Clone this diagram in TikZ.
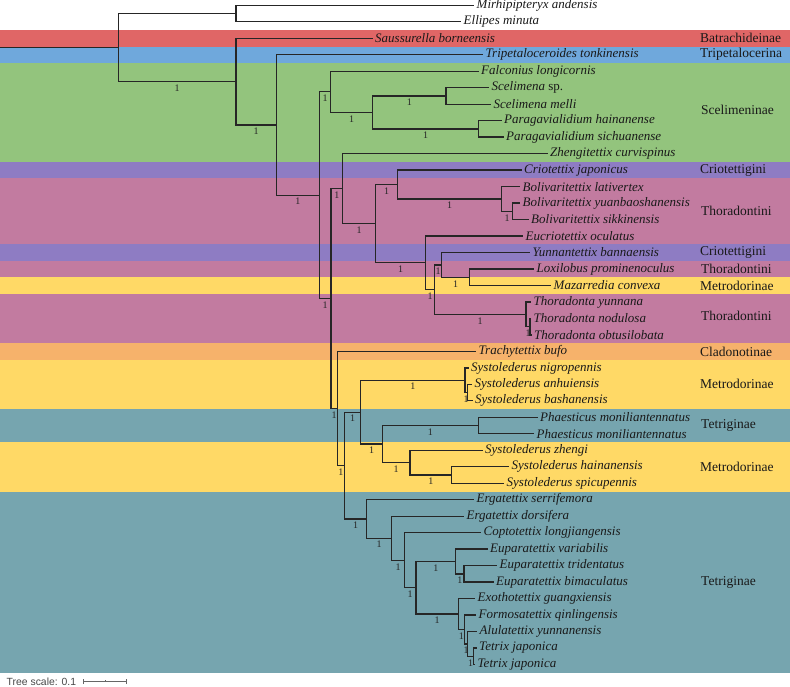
\documentclass[tikz,border=0pt]{standalone}
\usepackage{fontspec}
\setmainfont{Liberation Serif}
\newfontfamily\scalesans{Liberation Sans}
\definecolor{cRed}{HTML}{E06666}
\definecolor{cBlue}{HTML}{6FA8DC}
\definecolor{cGreen}{HTML}{93C47D}
\definecolor{cPurple}{HTML}{8E7CC3}
\definecolor{cMauve}{HTML}{C27BA0}
\definecolor{cYellow}{HTML}{FFD966}
\definecolor{cOrange}{HTML}{F6B26B}
\definecolor{cTeal}{HTML}{76A5AF}
\begin{document}
\begin{tikzpicture}[x=1pt,y=-1pt,
  br/.style={line width=1.3pt, draw=black!85},
  tip/.style={anchor=west, inner xsep=2.5pt, inner ysep=0pt, font=\fontsize{13}{13}\selectfont\itshape, text=black!90},
  grp/.style={anchor=west, inner sep=0pt, font=\fontsize{13.5}{13.5}\selectfont, text=black!90},
  sup/.style={pos=0.75, below=2.0pt, inner sep=0.5pt, font=\fontsize{10}{10}\selectfont, text=black!85}]
\useasboundingbox (0,0) rectangle (790,686);
% bands
\fill[cRed]    (0,30.06) rectangle (790,46.5);
\fill[cBlue]   (0,46.5) rectangle (790,63.0);
\fill[cGreen]  (0,63.0) rectangle (790,161.9);
\fill[cPurple] (0,161.9) rectangle (790,178.4);
\fill[cMauve]  (0,178.4) rectangle (790,244.3);
\fill[cPurple] (0,244.3) rectangle (790,260.8);
\fill[cMauve]  (0,260.8) rectangle (790,277.3);
\fill[cYellow] (0,277.3) rectangle (790,293.7);
\fill[cMauve]  (0,293.7) rectangle (790,343.2);
\fill[cOrange] (0,343.2) rectangle (790,359.7);
\fill[cYellow] (0,359.7) rectangle (790,409.1);
\fill[cTeal]   (0,409.1) rectangle (790,442.1);
\fill[cYellow] (0,442.1) rectangle (790,491.5);
\fill[cTeal]   (0,491.5) rectangle (790,672.7);
% group labels
\node[grp] (g1) at (700,38.3) {Batrachideinae};
\node[grp] (g2) at (700,54.7) {Tripetalocerina};
\node[grp] (g3) at (701,110) {Scelimeninae};
\node[grp] (g4) at (700,170.1) {Criotettigini};
\node[grp] (g5) at (701,211.3) {Thoradontini};
\node[grp] (g6) at (700,252.5) {Criotettigini};
\node[grp] (g7) at (701,269) {Thoradontini};
\node[grp] (g8) at (700,285.5) {Metrodorinae};
\node[grp] (g9) at (701,316) {Thoradontini};
\node[grp] (g10) at (700,351.4) {Cladonotinae};
\node[grp] (g11) at (700,384.3) {Metrodorinae};
\node[grp] (g12) at (701,425.5) {Tetriginae};
\node[grp] (g13) at (700,466.7) {Metrodorinae};
\node[grp] (g14) at (701,582) {Tetriginae};
% tips
\node[tip] (t0) at (474,5.8) {Mirhipipteryx andensis};
\node[tip] (t1) at (461,21.8) {Ellipes minuta};
\node[tip] (t2) at (372.5,38.3) {Saussurella borneensis};
\node[tip] (t3) at (483,54.7) {Tripetaloceroides tonkinensis};
\node[tip] (t4) at (478.5,71.2) {Falconius longicornis};
\node[tip] (t5) at (489,87.7) {Scelimena \upshape sp.};
\node[tip] (t6) at (491,104.2) {Scelimena melli};
\node[tip] (t7) at (501.5,120.7) {Paragavialidium hainanense};
\node[tip] (t8) at (503.5,137.1) {Paragavialidium sichuanense};
\node[tip] (t9) at (547.5,153.6) {Zhengitettix curvispinus};
\node[tip] (t10) at (521.5,170.1) {Criotettix japonicus};
\node[tip] (t11) at (520,186.6) {Bolivaritettix lativertex};
\node[tip] (t12) at (520,203.1) {Bolivaritettix yuanbaoshanensis};
\node[tip] (t13) at (528.5,219.5) {Bolivaritettix sikkinensis};
\node[tip] (t14) at (523,236.0) {Eucriotettix oculatus};
\node[tip] (t15) at (530,252.5) {Yunnantettix bannaensis};
\node[tip] (t16) at (534,269.0) {Loxilobus prominenoculus};
\node[tip] (t17) at (551,285.5) {Mazarredia convexa};
\node[tip] (t18) at (531,301.9) {Thoradonta yunnana};
\node[tip] (t19) at (531,318.4) {Thoradonta nodulosa};
\node[tip] (t20) at (531.5,334.9) {Thoradonta obtusilobata};
\node[tip] (t21) at (476,351.4) {Trachytettix bufo};
\node[tip] (t22) at (468.5,367.9) {Systolederus nigropennis};
\node[tip] (t23) at (472,384.3) {Systolederus anhuiensis};
\node[tip] (t24) at (472.5,400.8) {Systolederus bashanensis};
\node[tip] (t25) at (537.5,417.3) {Phaesticus moniliantennatus};
\node[tip] (t26) at (534,433.8) {Phaesticus moniliantennatus};
\node[tip] (t27) at (482.5,450.3) {Systolederus zhengi};
\node[tip] (t28) at (509,466.7) {Systolederus hainanensis};
\node[tip] (t29) at (504,483.2) {Systolederus spicupennis};
\node[tip] (t30) at (474,499.7) {Ergatettix serrifemora};
\node[tip] (t31) at (464,516.2) {Ergatettix dorsifera};
\node[tip] (t32) at (481,532.7) {Coptotettix longjiangensis};
\node[tip] (t33) at (487.5,549.1) {Euparatettix variabilis};
\node[tip] (t34) at (497,565.6) {Euparatettix tridentatus};
\node[tip] (t35) at (493.5,582.1) {Euparatettix bimaculatus};
\node[tip] (t36) at (475,598.6) {Exothotettix guangxiensis};
\node[tip] (t37) at (476,615.1) {Formosatettix qinlingensis};
\node[tip] (t38) at (477,631.5) {Alulatettix yunnanensis};
\node[tip] (t39) at (476.5,648.0) {Tetrix japonica};
\node[tip] (t40) at (475,664.5) {Tetrix japonica};
% internal nodes
\coordinate (rs) at (0,47.6);
\coordinate (root) at (118.3,47.6);
\coordinate (og) at (236,13.8);
\coordinate (n2) at (236,81.6);
\coordinate (n3) at (276.3,124.95);
\coordinate (n4) at (319.3,195.2);
\coordinate (nS1) at (330.7,91.8);
\coordinate (nS2) at (372.7,112.4);
\coordinate (nS3) at (446,95.95);
\coordinate (nS4) at (478.3,128.9);
\coordinate (n5) at (331,298.55);
\coordinate (n6) at (342.7,188.6);
\coordinate (n8) at (375.7,223.65);
\coordinate (n9) at (397.7,184.5);
\coordinate (n11) at (501.7,198.95);
\coordinate (n12) at (512.7,211.3);
\coordinate (n10) at (425.7,262.8);
\coordinate (n13) at (434.3,289.6);
\coordinate (n14) at (441.7,264.9);
\coordinate (n15) at (469.3,277.25);
\coordinate (n16) at (526,314.3);
\coordinate (n17) at (530,326.65);
\coordinate (n7) at (337.3,408.5);
\coordinate (n18) at (344.3,465.55);
\coordinate (n19) at (360.7,412.15);
\coordinate (n20) at (465,380.2);
\coordinate (n21) at (467.3,392.55);
\coordinate (n22) at (382.3,444.1);
\coordinate (n23) at (478.3,425.55);
\coordinate (n24) at (410,462.6);
\coordinate (n24b) at (451.7,474.95);
\coordinate (n25) at (366.7,518.95);
\coordinate (n26) at (391.7,538.2);
\coordinate (n27) at (404.3,560.25);
\coordinate (n28) at (416,587.8);
\coordinate (n29) at (455.7,561.5);
\coordinate (n30) at (464,573.85);
\coordinate (n31) at (458.3,614.05);
\coordinate (n32) at (464.3,629.5);
\coordinate (n33) at (467.7,643.9);
\coordinate (n34) at (473.3,656.25);
% branches
\draw[br] (rs) -- (root);
\draw[br] (root) |- (og);
\draw[br] (root) |- (n2) node[sup]{1};
\draw[br] (og) |- (t0.west);
\draw[br] (og) |- (t1.west);
\draw[br] (n2) |- (t2.west);
\draw[br] (n2) |- (n3) node[sup]{1};
\draw[br] (n3) |- (t3.west);
\draw[br] (n3) |- (n4) node[sup]{1};
\draw[br] (n4) |- (nS1) node[sup]{1};
\draw[br] (nS1) |- (t4.west);
\draw[br] (nS1) |- (nS2) node[sup]{1};
\draw[br] (nS2) |- (nS3) node[sup]{1};
\draw[br] (nS2) |- (nS4) node[sup]{1};
\draw[br] (nS3) |- (t5.west);
\draw[br] (nS3) |- (t6.west);
\draw[br] (nS4) |- (t7.west);
\draw[br] (nS4) |- (t8.west);
\draw[br] (n4) |- (n5) node[sup]{1};
\draw[br] (n5) |- (n6) node[sup]{1};
\draw[br] (n6) |- (t9.west);
\draw[br] (n6) |- (n8) node[sup]{1};
\draw[br] (n8) |- (n9) node[sup]{1};
\draw[br] (n9) |- (t10.west);
\draw[br] (n9) |- (n11) node[sup]{1};
\draw[br] (n11) |- (t11.west);
\draw[br] (n11) |- (n12) node[sup]{1};
\draw[br] (n12) |- (t12.west);
\draw[br] (n12) |- (t13.west);
\draw[br] (n8) |- (n10) node[sup]{1};
\draw[br] (n10) |- (t14.west);
\draw[br] (n10) |- (n13) node[sup]{1};
\draw[br] (n13) |- (n14) node[sup]{1};
\draw[br] (n14) |- (t15.west);
\draw[br] (n14) |- (n15) node[sup]{1};
\draw[br] (n15) |- (t16.west);
\draw[br] (n15) |- (t17.west);
\draw[br] (n13) |- (n16) node[sup]{1};
\draw[br] (n16) |- (t18.west);
\draw[br] (n16) |- (n17) node[sup]{1};
\draw[br] (n17) |- (t19.west);
\draw[br] (n17) |- (t20.west);
\draw[br] (n5) |- (n7) node[sup]{1};
\draw[br] (n7) |- (t21.west);
\draw[br] (n7) |- (n18) node[sup]{1};
\draw[br] (n18) |- (n19) node[sup]{1};
\draw[br] (n19) |- (n20) node[sup]{1};
\draw[br] (n20) |- (t22.west);
\draw[br] (n20) |- (n21) node[sup]{1};
\draw[br] (n21) |- (t23.west);
\draw[br] (n21) |- (t24.west);
\draw[br] (n19) |- (n22) node[sup]{1};
\draw[br] (n22) |- (n23) node[sup]{1};
\draw[br] (n23) |- (t25.west);
\draw[br] (n23) |- (t26.west);
\draw[br] (n22) |- (n24) node[sup]{1};
\draw[br] (n24) |- (t27.west);
\draw[br] (n24) |- (n24b) node[sup]{1};
\draw[br] (n24b) |- (t28.west);
\draw[br] (n24b) |- (t29.west);
\draw[br] (n18) |- (n25) node[sup]{1};
\draw[br] (n25) |- (t30.west);
\draw[br] (n25) |- (n26) node[sup]{1};
\draw[br] (n26) |- (t31.west);
\draw[br] (n26) |- (n27) node[sup]{1};
\draw[br] (n27) |- (t32.west);
\draw[br] (n27) |- (n28) node[sup]{1};
\draw[br] (n28) |- (n29) node[sup]{1};
\draw[br] (n29) |- (t33.west);
\draw[br] (n29) |- (n30) node[sup]{1};
\draw[br] (n30) |- (t34.west);
\draw[br] (n30) |- (t35.west);
\draw[br] (n28) |- (n31) node[sup]{1};
\draw[br] (n31) |- (t36.west);
\draw[br] (n31) |- (n32) node[sup]{1};
\draw[br] (n32) |- (t37.west);
\draw[br] (n32) |- (n33) node[sup]{1};
\draw[br] (n33) |- (t38.west);
\draw[br] (n33) |- (n34) node[sup]{1};
\draw[br] (n34) |- (t39.west);
\draw[br] (n34) |- (t40.west);
% tree scale
\node[anchor=west, inner sep=0pt, font=\scalesans\fontsize{10.4}{10.4}\selectfont, text=black!72] (scl) at (6.5,681.5) {Tree scale: 0.1};
\coordinate (sb1) at (83.5,681.5);
\coordinate (sb2) at (126.5,681.5);
\coordinate (sbm) at (105,681.5);
\draw[black!60, line width=0.8pt] (sb1) -- (sb2);
\draw[black!60, line width=0.8pt] ([yshift=-2.5pt]sb1) -- ([yshift=2.5pt]sb1);
\draw[black!60, line width=0.8pt] ([yshift=-2.5pt]sb2) -- ([yshift=2.5pt]sb2);
\draw[black!60, line width=0.8pt] (sbm) -- ([yshift=1.2pt]sbm);
\end{tikzpicture}
\end{document}
